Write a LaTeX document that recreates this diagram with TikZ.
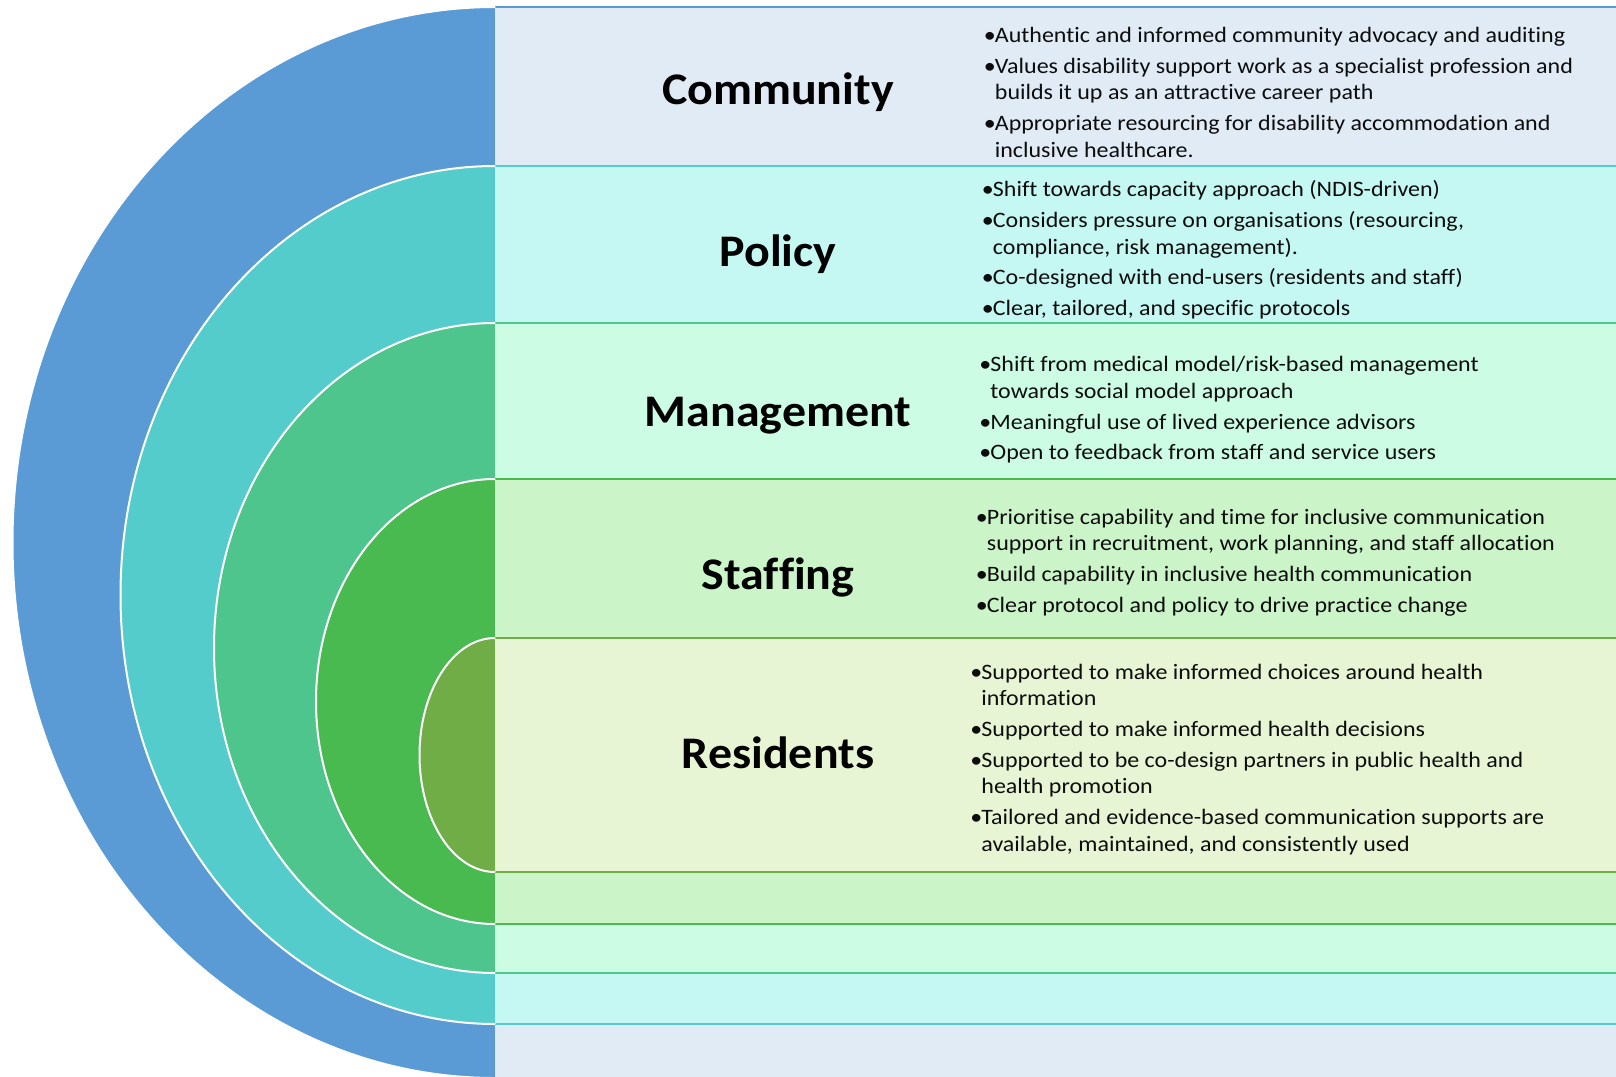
\documentclass[tikz,border=0pt]{standalone}
\usepackage{fontspec}
\setmainfont{Carlito}[Ligatures=NoCommon]
\newfontfamily\bodyfont{Carlito}[FakeStretch=1.09, Ligatures=NoCommon]
\newfontfamily\headfont{Carlito}[FakeStretch=1.06, Ligatures=NoCommon]
\definecolor{commC}{HTML}{5B9BD5}
\definecolor{commF}{HTML}{E0EBF6}
\definecolor{polC}{HTML}{54CCCC}
\definecolor{polF}{HTML}{C5F7F3}
\definecolor{manC}{HTML}{4EC58C}
\definecolor{manF}{HTML}{CCFDE4}
\definecolor{staC}{HTML}{48BA50}
\definecolor{staF}{HTML}{CBF5C8}
\definecolor{resC}{HTML}{70AD47}
\definecolor{resF}{HTML}{E7F5D5}
\newcommand{\bl}{\makebox[5.5pt][l]{\textbullet}}
% one ring: rectangle band to the right, half ellipse to the left
\newcommand{\ring}[6]{% #1 ring colour, #2 band fill, #3 centre y, #4 x radius, #5 y radius, #6 name
  \path[fill=#2] (495,#3-#5) rectangle (1640,#3+#5);
  \draw[#1, line width=1.1pt] (495,#3-#5) -- (1640,#3-#5);
  \draw[#1, line width=1.1pt] (495,#3+#5) -- (1640,#3+#5);
  \draw[white, opacity=.45, line width=.8pt] (495.5,#3-#5) -- (495.5,#3+#5);
  \begin{scope}
    \clip (0,-10) rectangle (495,1100);
    \fill[#1] (495,#3) ellipse [x radius=#4, y radius=#5];
    \draw[white, line width=1pt] (495,#3) ellipse [x radius=#4, y radius=#5];
  \end{scope}
  \coordinate (#6) at (495,#3);
}
\tikzset{
  title/.style={font=\headfont\fontsize{22.6pt}{27pt}\selectfont\bfseries, text=black, inner sep=0pt, anchor=base},
  bullets/.style={font=\bodyfont\fontsize{11pt}{13.3pt}\selectfont, text=black!95, inner sep=0pt, anchor=base west}
}
\begin{document}
\begin{tikzpicture}[x=0.5pt, y=-0.5pt]
\useasboundingbox (0,0) rectangle (1616,1076);
\clip (0,0) rectangle (1616,1076);
\fill[white] (0,0) rectangle (1616,1076);

\ring{commC}{commF}{542.5}{482.5}{535.5}{ringcommunity}
\ring{polC}{polF}{595}{374.5}{429}{ringpolicy}
\ring{manC}{manF}{648}{281}{325}{ringmanagement}
\ring{staC}{staF}{701.5}{179}{222.5}{ringstaffing}
\ring{resC}{resF}{755}{75.5}{117}{ringresidents}

\node[title] (community) at (778,104.3) {Community};
\node[title] (policy) at (778,266.7) {Policy};
\node[title] (management) at (778,426.7) {Management};
\node[title] (staffing) at (778,589.3) {Staffing};
\node[title] (residents) at (778,768.3) {Residents};

\node[bullets] (communitytext) at (983.5,42.3) {\begin{tabular}[t]{@{}l@{}l@{}}
\bl & Authentic and informed community advocacy and auditing\\[2.1pt]
\bl & Values disability support work as a specialist profession and\\
    & builds it up as an attractive career path\\[2.1pt]
\bl & Appropriate resourcing for disability accommodation and\\
    & inclusive healthcare.
\end{tabular}};

\node[bullets] (policytext) at (981.5,196.6) {\begin{tabular}[t]{@{}l@{}l@{}}
\bl & Shift towards capacity approach (NDIS-driven)\\[2.1pt]
\bl & Considers pressure on organisations (resourcing,\\
    & compliance, risk management).\\[2.1pt]
\bl & Co-designed with end-users (residents and staff)\\[2.1pt]
\bl & Clear, tailored, and specific protocols
\end{tabular}};

\node[bullets] (managementtext) at (979,371.7) {\begin{tabular}[t]{@{}l@{}l@{}}
\bl & Shift from medical model/risk-based management\\
    & towards social model approach\\[2.1pt]
\bl & Meaningful use of lived experience advisors\\[2.1pt]
\bl & Open to feedback from staff and service users
\end{tabular}};

\node[bullets] (staffingtext) at (975.5,524) {\begin{tabular}[t]{@{}l@{}l@{}}
\bl & Prioritise capability and time for inclusive communication\\
    & support in recruitment, work planning, and staff allocation\\[2.1pt]
\bl & Build capability in inclusive health communication\\[2.1pt]
\bl & Clear protocol and policy to drive practice change
\end{tabular}};

\node[bullets] (residentstext) at (970,679) {\begin{tabular}[t]{@{}l@{}l@{}}
\bl & Supported to make informed choices around health\\
    & information\\[2.1pt]
\bl & Supported to make informed health decisions\\[2.1pt]
\bl & Supported to be co-design partners in public health and\\
    & health promotion\\[2.1pt]
\bl & Tailored and evidence-based communication supports are\\
    & available, maintained, and consistently used
\end{tabular}};
\end{tikzpicture}
\end{document}
